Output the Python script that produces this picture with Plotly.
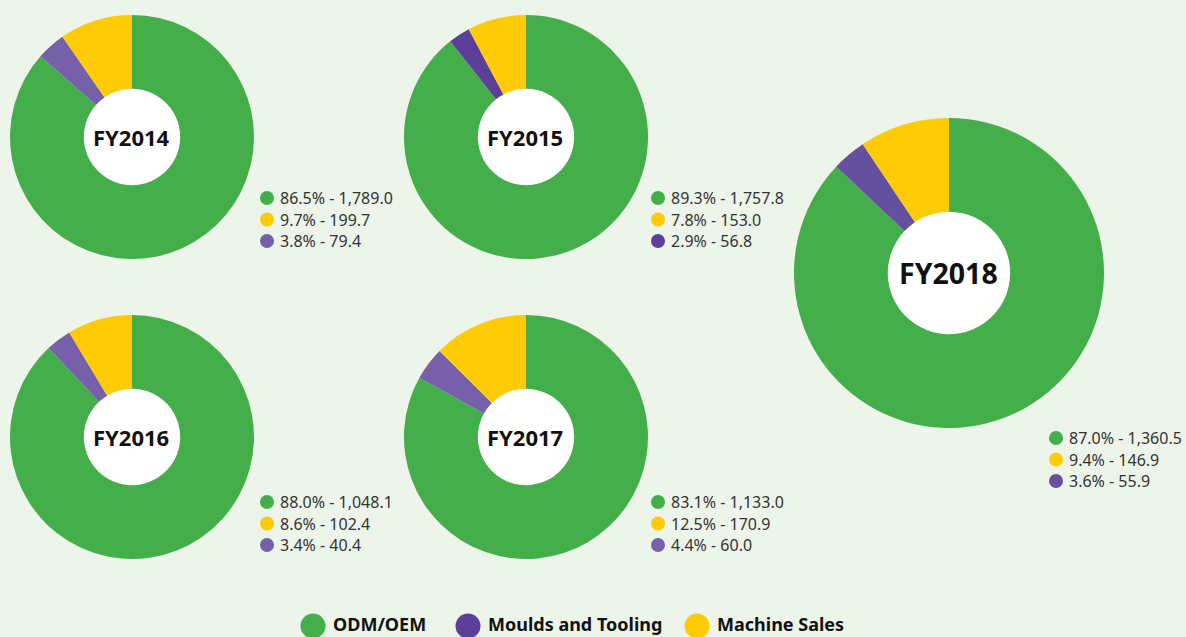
import plotly.graph_objects as go

W, H = 1186, 637
years = ["FY2014", "FY2015", "FY2016", "FY2017", "FY2018"]
segments = ["ODM/OEM", "Moulds and Tooling", "Machine Sales"]
odm = [1789.0, 1757.8, 1048.1, 1133.0, 1360.5]
moulds = [79.4, 56.8, 40.4, 60.0, 55.9]
machine = [199.7, 153.0, 102.4, 170.9, 146.9]

GREEN = "#43AE4A"
YELLOW = "#FFCB05"
PURPLE_L = "#7560A9"
PURPLE_D = "#5B3F98"
purples = [PURPLE_L, PURPLE_D, PURPLE_L, PURPLE_L, "#64509F"]

# layout (pixels): center x, center y, radius, label size, legend x, legend y
geo = [
    (132, 137, 122, 22, 267, 198),
    (526, 137, 122, 22, 658, 198),
    (132, 437, 122, 22, 267, 502),
    (526, 437, 122, 22, 658, 502),
    (949, 273, 155, 28.5, 1056, 438),
]
HOLE = 0.395

FONT = "Noto Sans"
fig = go.Figure()

def px(x):
    return x / W

def py(y):
    return 1 - y / H

for i, yr in enumerate(years):
    cx, cy, r, fs, lx, ly = geo[i]
    hr = r * HOLE
    fig.add_shape(type="circle", xref="x", yref="y", layer="below",
                  x0=cx - hr, x1=cx + hr, y0=cy - hr, y1=cy + hr,
                  fillcolor="white", line=dict(width=0))
    fig.add_trace(go.Pie(
        labels=segments,
        values=[odm[i], moulds[i], machine[i]],
        marker=dict(colors=[GREEN, purples[i], YELLOW], line=dict(width=0)),
        hole=HOLE, sort=False, direction="clockwise", rotation=0,
        textinfo="none", hoverinfo="label+value+percent",
        domain=dict(x=[px(cx - r), px(cx + r)], y=[py(cy + r), py(cy - r)]),
        showlegend=False,
    ))
    fig.add_annotation(x=cx - 1, y=cy, xref="x", yref="y",
                       xanchor="center", yanchor="middle",
                       text="<b>%s</b>" % yr, showarrow=False,
                       font=dict(family=FONT, size=fs, color="#111111"))
    total = odm[i] + moulds[i] + machine[i]
    rows = [(odm[i], GREEN), (machine[i], YELLOW), (moulds[i], purples[i])]
    for k, (v, c) in enumerate(rows):
        yy = ly + k * 21.5
        fig.add_trace(go.Scatter(x=[lx], y=[yy], mode="markers",
                                 marker=dict(size=14, color=c), showlegend=False,
                                 hoverinfo="skip"))
        fig.add_annotation(x=lx + 11, y=yy, xref="x", yref="y",
                           xanchor="left", yanchor="middle",
                           text="%.1f%% - %s" % (v / total * 100, f"{v:,.1f}"),
                           showarrow=False,
                           font=dict(family=FONT, size=16, color="#333333"))

# bottom legend
leg_x = [313, 468, 697]
leg_c = [GREEN, PURPLE_D, YELLOW]
for x, c, name in zip(leg_x, leg_c, segments):
    fig.add_trace(go.Scatter(x=[x], y=[626], mode="markers",
                             marker=dict(size=25, color=c), showlegend=False,
                             hoverinfo="skip"))
    fig.add_annotation(x=x + 18, y=624, xref="x", yref="y",
                       xanchor="left", yanchor="middle",
                       text="<b>%s</b>" % name, showarrow=False,
                       font=dict(family=FONT, size=18, color="#111111"))

fig.update_layout(
    width=W, height=H,
    margin=dict(l=0, r=0, t=0, b=0),
    paper_bgcolor="#EDF4EA", plot_bgcolor="rgba(0,0,0,0)",
    xaxis=dict(range=[0, W], visible=False, domain=[0, 1], fixedrange=True),
    yaxis=dict(range=[H, 0], visible=False, domain=[0, 1], fixedrange=True),
    showlegend=False,
)

fig.write_html("out.html")
